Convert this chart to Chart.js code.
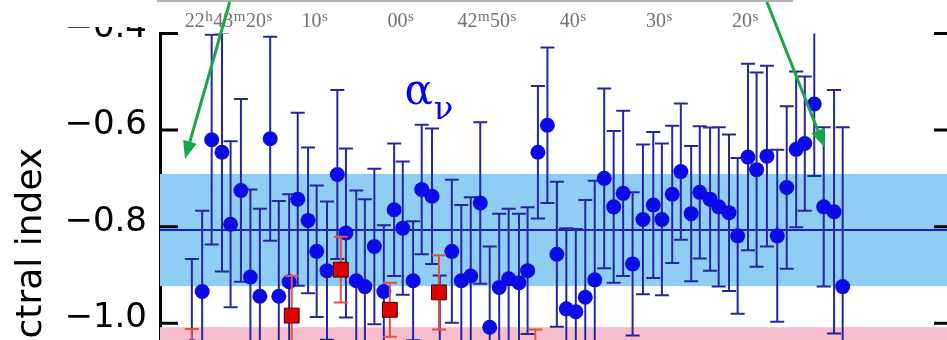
<!DOCTYPE html>
<html>
<head>
<meta charset="utf-8">
<script src="https://cdn.jsdelivr.net/npm/chart.js@4"></script>
<style>
html, body { margin: 0; padding: 0; overflow: hidden; background: #fff; }
#wrap { position: relative; width: 965px; height: 550px; }
</style>
</head>
<body>
<div id="wrap"><canvas id="alphaChart"></canvas></div>
<script>
// slice positions as RA seconds past 22h42m, spectral index and its 1-sigma error
const raSec = [84.3, 83.1, 82.0, 80.8, 79.8, 78.6, 77.5, 76.4, 75.2, 74.2, 73.0, 72.0, 70.8, 69.8,
    68.6, 67.4, 66.4, 65.2, 64.2, 63.1, 62.0, 60.8, 59.8, 58.6, 57.6, 56.4, 55.5, 54.1, 53.0, 51.9,
    50.8, 49.7, 48.6, 47.5, 46.3, 45.3, 44.1, 43.0, 41.9, 40.8, 39.7, 38.6, 37.5, 36.4, 35.3, 34.2,
    33.1, 31.9, 30.7, 29.7, 28.5, 27.5, 26.3, 25.3, 24.1, 23.1, 21.9, 20.9, 19.7, 18.7, 17.5, 16.3,
    15.2, 14.1, 13.1, 12.0, 10.9, 9.7, 8.7];
const alpha = [-1.048, -0.934, -0.620, -0.646, -0.795, -0.725, -0.904, -0.944, -0.618, -0.944,
    -0.914, -0.743, -0.787, -0.851, -0.891, -0.692, -0.813, -0.912, -0.924, -0.841, -0.934, -0.765,
    -0.803, -0.912, -0.723, -0.737, -1.068, -0.851, -0.912, -0.902, -0.751, -1.008, -0.926, -0.908,
    -0.916, -0.891, -0.646, -0.590, -0.857, -0.970, -0.976, -0.946, -0.910, -0.700, -0.759, -0.731,
    -0.877, -0.785, -0.755, -0.785, -0.733, -0.686, -0.773, -0.729, -0.743, -0.759, -0.771, -0.819,
    -0.656, -0.682, -0.654, -0.819, -0.719, -0.640, -0.628, -0.546, -0.759, -0.769, -0.924];
const alphaErr = [0.181, 0.167, 0.217, 0.247, 0.172, 0.189, 0.181, 0.181, 0.211, 0.197, 0.181,
    0.179, 0.151, 0.136, 0.143, 0.175, 0.175, 0.187, 0.181, 0.161, 0.137, 0.137, 0.138, 0.123,
    0.134, 0.140, 0.167, 0.148, 0.157, 0.163, 0.167, 0.167, 0.153, 0.145, 0.143, 0.131, 0.137,
    0.161, 0.150, 0.167, 0.171, 0.201, 0.205, 0.186, 0.157, 0.171, 0.148, 0.155, 0.151, 0.157,
    0.142, 0.141, 0.140, 0.137, 0.148, 0.165, 0.162, 0.161, 0.193, 0.201, 0.187, 0.178, 0.168,
    0.161, 0.139, 0.149, 0.165, 0.252, 0.330];

// second set (red squares)
const raSecRed = [84.3, 72.7, 67.0, 61.3, 55.6, 44.4];
const alphaRed = [-1.139, -0.984, -0.889, -0.972, -0.936, -1.109];
const alphaRedErr = [0.127, 0.082, 0.068, 0.056, 0.077, 0.096];

// mean and spread of the blue set, lower shaded band
const meanAlpha = -0.807;
const meanSpread = 0.116;
const pinkBandTop = -1.008;

// RA labels of the image stamp above the plot
const raTicks = [80, 70, 60, 50, 40, 30, 20];
const raLabels = ['22h43m20s', '10s', '00s', '42m50s', '40s', '30s', '20s'];

// arrows from the stamp down to the plot: [ra, alpha] start and tip
const arrowStarts = [[79.9, -0.335], [17.5, -0.335]];
const arrowTips = [[85.1, -0.660], [10.8, -0.636]];
const labelPos = [59.6, -0.546];

const toPoints = (xs, ys) => xs.map((x, i) => ({ x: x, y: ys[i] }));

const bandPlugin = {
    id: 'bands',
    beforeDatasetsDraw(chart) {
        const { ctx, chartArea: a, scales: { y } } = chart;
        ctx.save();
        const pinkTop = y.getPixelForValue(pinkBandTop);
        ctx.fillStyle = '#f6bdcc';
        ctx.fillRect(a.left, pinkTop, a.width, a.bottom - pinkTop);
        const bTop = y.getPixelForValue(meanAlpha + meanSpread);
        const bBot = y.getPixelForValue(meanAlpha - meanSpread);
        ctx.fillStyle = '#8fcdf4';
        ctx.fillRect(a.left, bTop, a.width, bBot - bTop);
        const m = y.getPixelForValue(meanAlpha);
        ctx.strokeStyle = '#1c1cc8';
        ctx.lineWidth = 2;
        ctx.beginPath();
        ctx.moveTo(a.left, m);
        ctx.lineTo(a.right, m);
        ctx.stroke();
        ctx.restore();
    }
};

const errorBarPlugin = {
    id: 'errorBars',
    beforeDatasetDraw(chart, args) {
        const ds = chart.data.datasets[args.index];
        if (!ds.errors) return;
        const { ctx, chartArea: a, scales: { x, y } } = chart;
        ctx.save();
        ctx.beginPath();
        ctx.rect(a.left, a.top, a.width, a.height);
        ctx.clip();
        ctx.strokeStyle = ds.errorColor;
        ctx.lineWidth = 2;
        ctx.beginPath();
        ds.data.forEach((p, i) => {
            const px = x.getPixelForValue(p.x);
            const hi = y.getPixelForValue(p.y + ds.errors[i]);
            const lo = y.getPixelForValue(p.y - ds.errors[i]);
            ctx.moveTo(px, hi); ctx.lineTo(px, lo);
            ctx.moveTo(px - 7, hi); ctx.lineTo(px + 7, hi);
            ctx.moveTo(px - 7, lo); ctx.lineTo(px + 7, lo);
        });
        ctx.stroke();
        ctx.restore();
    }
};

const framePlugin = {
    id: 'frame',
    afterDatasetsDraw(chart) {
        const { ctx, chartArea: a, scales: { y } } = chart;
        ctx.save();
        ctx.strokeStyle = '#000';
        ctx.lineWidth = 3;
        ctx.beginPath();
        y.ticks.forEach(t => {
            const py = y.getPixelForValue(t.value);
            ctx.moveTo(a.left, py); ctx.lineTo(a.left + 18, py);
            ctx.moveTo(a.right - 18, py); ctx.lineTo(a.right, py);
        });
        ctx.moveTo(a.right, a.top); ctx.lineTo(a.right, a.bottom);
        ctx.stroke();
        // the stamp image above hides the top of the panel
        ctx.fillStyle = '#fff';
        ctx.fillRect(0, 0, chart.width, 27);
        ctx.fillRect(a.left - 3, 0, chart.width, 31);
        ctx.restore();
    },
    afterDraw(chart) {
        const { ctx, scales: { x, y } } = chart;
        ctx.save();
        ctx.fillStyle = '#b4b4b4';
        ctx.fillRect(157, 0, 636, 2);

        // RA labels with superscript units
        ctx.fillStyle = '#727272';
        ctx.textBaseline = 'alphabetic';
        const big = '20px "Liberation Serif"', small = '15px "Liberation Serif"';
        raTicks.forEach((t, i) => {
            const parts = [...raLabels[i].matchAll(/(\d+)([hms])/g)];
            let w = 0;
            parts.forEach(p => {
                ctx.font = big; w += ctx.measureText(p[1]).width;
                ctx.font = small; w += ctx.measureText(p[2]).width + 1;
            });
            let px = x.getPixelForValue(t) - w / 2;
            parts.forEach(p => {
                ctx.font = big; ctx.fillText(p[1], px, 27); px += ctx.measureText(p[1]).width;
                ctx.font = small; ctx.fillText(p[2], px + 0.5, 21); px += ctx.measureText(p[2]).width + 1;
            });
        });

        // alpha_nu label
        ctx.fillStyle = '#0000ff';
        const lx = x.getPixelForValue(labelPos[0]);
        const ly = y.getPixelForValue(labelPos[1]);
        ctx.font = '42px "DejaVu Serif"';
        ctx.fillText('\u03b1', lx, ly);
        const aw = ctx.measureText('\u03b1').width;
        ctx.font = '32px "DejaVu Serif"';
        ctx.fillText('\u03bd', lx + aw + 1, ly + 15);

        // green arrows
        ctx.strokeStyle = '#1aa64a';
        ctx.fillStyle = '#1aa64a';
        ctx.lineWidth = 3;
        arrowStarts.forEach((s, i) => {
            const x0 = x.getPixelForValue(s[0]), y0 = y.getPixelForValue(s[1]);
            const x1 = x.getPixelForValue(arrowTips[i][0]), y1 = y.getPixelForValue(arrowTips[i][1]);
            const ang = Math.atan2(y1 - y0, x1 - x0);
            const hl = 18, hw = 7;
            const bx = x1 - hl * Math.cos(ang), by = y1 - hl * Math.sin(ang);
            ctx.beginPath();
            ctx.moveTo(x0, y0); ctx.lineTo(bx, by);
            ctx.stroke();
            ctx.beginPath();
            ctx.moveTo(x1, y1);
            ctx.lineTo(bx + hw * Math.sin(ang), by - hw * Math.cos(ang));
            ctx.lineTo(bx - hw * Math.sin(ang), by + hw * Math.cos(ang));
            ctx.closePath();
            ctx.fill();
        });
        ctx.restore();
    }
};

new Chart(document.getElementById('alphaChart'), {
    type: 'scatter',
    data: {
        datasets: [{
            label: 'compact',
            data: toPoints(raSecRed, alphaRed),
            errors: alphaRedErr,
            errorColor: '#e4513f',
            pointStyle: 'rect',
            pointRadius: 10.5,
            backgroundColor: '#e00000',
            borderColor: '#3a0000',
            borderWidth: 1
        }, {
            label: 'spectral index',
            data: toPoints(raSec, alpha),
            errors: alphaErr,
            errorColor: '#26269e',
            pointRadius: 7.5,
            backgroundColor: '#0b0be8',
            borderWidth: 0
        }]
    },
    options: {
        responsive: true,
        maintainAspectRatio: false,
        animation: false,
        layout: { padding: { top: 28, bottom: 24, left: 0, right: 13 } },
        scales: {
            x: {
                type: 'linear',
                reverse: true,
                min: -4,
                max: 88,
                display: false
            },
            y: {
                min: -1.4,
                max: -0.4,
                afterFit: (axis) => { axis.width = 160; },
                grid: { display: false, drawTicks: false },
                border: { display: true, color: '#000', width: 3 },
                ticks: {
                    stepSize: 0.2,
                    padding: 13,
                    labelOffset: -5,
                    color: '#000',
                    font: { family: 'DejaVu Sans', size: 34 },
                    callback: (v) => (v < 0 ? '\u2212' : '') + Math.abs(v).toFixed(1)
                },
                title: {
                    display: true,
                    text: 'spectral index',
                    color: '#000',
                    font: { family: 'DejaVu Sans', size: 36 },
                    padding: { top: 10, bottom: 0 }
                }
            }
        },
        plugins: {
            legend: { display: false },
            tooltip: { enabled: false }
        }
    },
    plugins: [bandPlugin, errorBarPlugin, framePlugin]
});
</script>
</body>
</html>
